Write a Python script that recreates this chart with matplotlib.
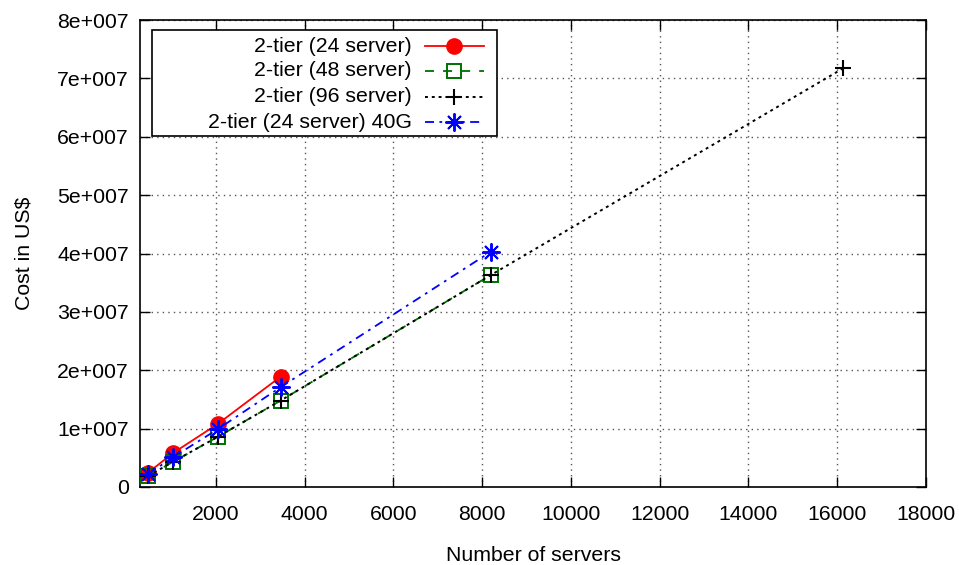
import matplotlib
matplotlib.use("Agg")
import matplotlib.pyplot as plt
from matplotlib.lines import Line2D
from matplotlib.patches import Rectangle

plt.rcParams['font.family'] = ['Liberation Sans', 'DejaVu Sans']

# Number of servers for each topology
servers_24 = [470, 1030, 2040, 3456]
servers_48 = [470, 1030, 2040, 3456, 8192]
servers_96 = [470, 1030, 2040, 3456, 8192, 16128]
servers_24_40g = [470, 1030, 2040, 3456, 8192]

# Total cost in US$
cost_24 = [2.45e6, 5.8e6, 1.08e7, 1.89e7]
cost_48 = [1.9e6, 4.3e6, 8.6e6, 1.48e7, 3.63e7]
cost_96 = [1.9e6, 4.3e6, 8.6e6, 1.48e7, 3.63e7, 7.17e7]
cost_24_40g = [2.2e6, 5.1e6, 9.9e6, 1.71e7, 4.03e7]

labels = ["2-tier (24 server)", "2-tier (48 server)",
          "2-tier (96 server)", "2-tier (24 server) 40G"]

x_ticks = [2000, 4000, 6000, 8000, 10000, 12000, 14000, 16000, 18000]
y_ticks = [0, 1e7, 2e7, 3e7, 4e7, 5e7, 6e7, 7e7, 8e7]
y_tick_labels = ["0", "1e+007", "2e+007", "3e+007", "4e+007",
                 "5e+007", "6e+007", "7e+007", "8e+007"]

FS = 15.3
W, H = 959, 565
AX_L, AX_R, AX_T, AX_B = 140, 926, 20, 487

fig = plt.figure(figsize=(W / 100, H / 100), dpi=100)
ax = fig.add_axes([AX_L / W, 1 - AX_B / H, (AX_R - AX_L) / W, (AX_B - AX_T) / H])

styles = [
    dict(color='#ff0000', linestyle='-', lw=1.3, marker='o', markersize=11,
         markeredgewidth=1),
    dict(color='#007000', linestyle=(0, (5, 5)), lw=1.3, marker='s', markersize=9.5,
         markerfacecolor='none', markeredgewidth=1.4),
    dict(color='#000000', linestyle=(0, (1.5, 2)), lw=1.4, marker='+',
         markersize=12, markeredgewidth=1.5),
    dict(color='#0000ff', linestyle=(0, (5, 3, 1.5, 3)), lw=1.3, marker=(8, 2, 0),
         markersize=13, markeredgewidth=1.4),
]

series = [(servers_24, cost_24), (servers_48, cost_48),
          (servers_96, cost_96), (servers_24_40g, cost_24_40g)]
for i, ((xs, ys), st) in enumerate(zip(series, styles)):
    ax.plot(xs, ys, label=labels[i], zorder=3 + i, **st)

ax.set_xlim(288, 18000)
ax.set_ylim(0, 8e7)
ax.set_xticks(x_ticks)
ax.set_yticks(y_ticks)
ax.set_yticklabels(y_tick_labels)

ax.tick_params(direction='in', length=7, width=1, top=True, right=True,
               labelsize=FS, pad=8)
ax.tick_params(axis='x', pad=13)
ax.grid(True, color='#555555', linestyle=(0, (1, 3)), lw=1)
for s in ax.spines.values():
    s.set_linewidth(1.2)

ax.set_xlabel("Number of servers", fontsize=FS, labelpad=16)
ax.set_ylabel("Cost in US$", fontsize=FS, labelpad=17)


# Key box with right-aligned labels followed by line samples
def fx(px):
    return (px - AX_L) / (AX_R - AX_L)


def fy(py):
    return (AX_B - py) / (AX_B - AX_T)


ax.add_patch(Rectangle((fx(152), fy(136)), fx(497) - fx(152), fy(30) - fy(136),
                       transform=ax.transAxes, facecolor='white',
                       edgecolor='black', lw=1.2, zorder=10, clip_on=False))
row_y = [46, 71, 97, 122]
for lab, st, py in zip(labels, styles, row_y):
    ax.text(fx(412), fy(py), lab, transform=ax.transAxes, ha='right',
            va='center', fontsize=FS, zorder=11)
    line_st = {k: v for k, v in st.items() if not k.startswith('marker')}
    ax.add_line(Line2D([fx(425), fx(484)], [fy(py), fy(py)],
                       transform=ax.transAxes, zorder=11, clip_on=False, **line_st))
    mk_st = dict(st)
    mk_st['linestyle'] = 'none'
    ax.add_line(Line2D([fx(454.5)], [fy(py)], transform=ax.transAxes,
                       zorder=12, clip_on=False, **mk_st))

fig.savefig("out.png", dpi=100)
